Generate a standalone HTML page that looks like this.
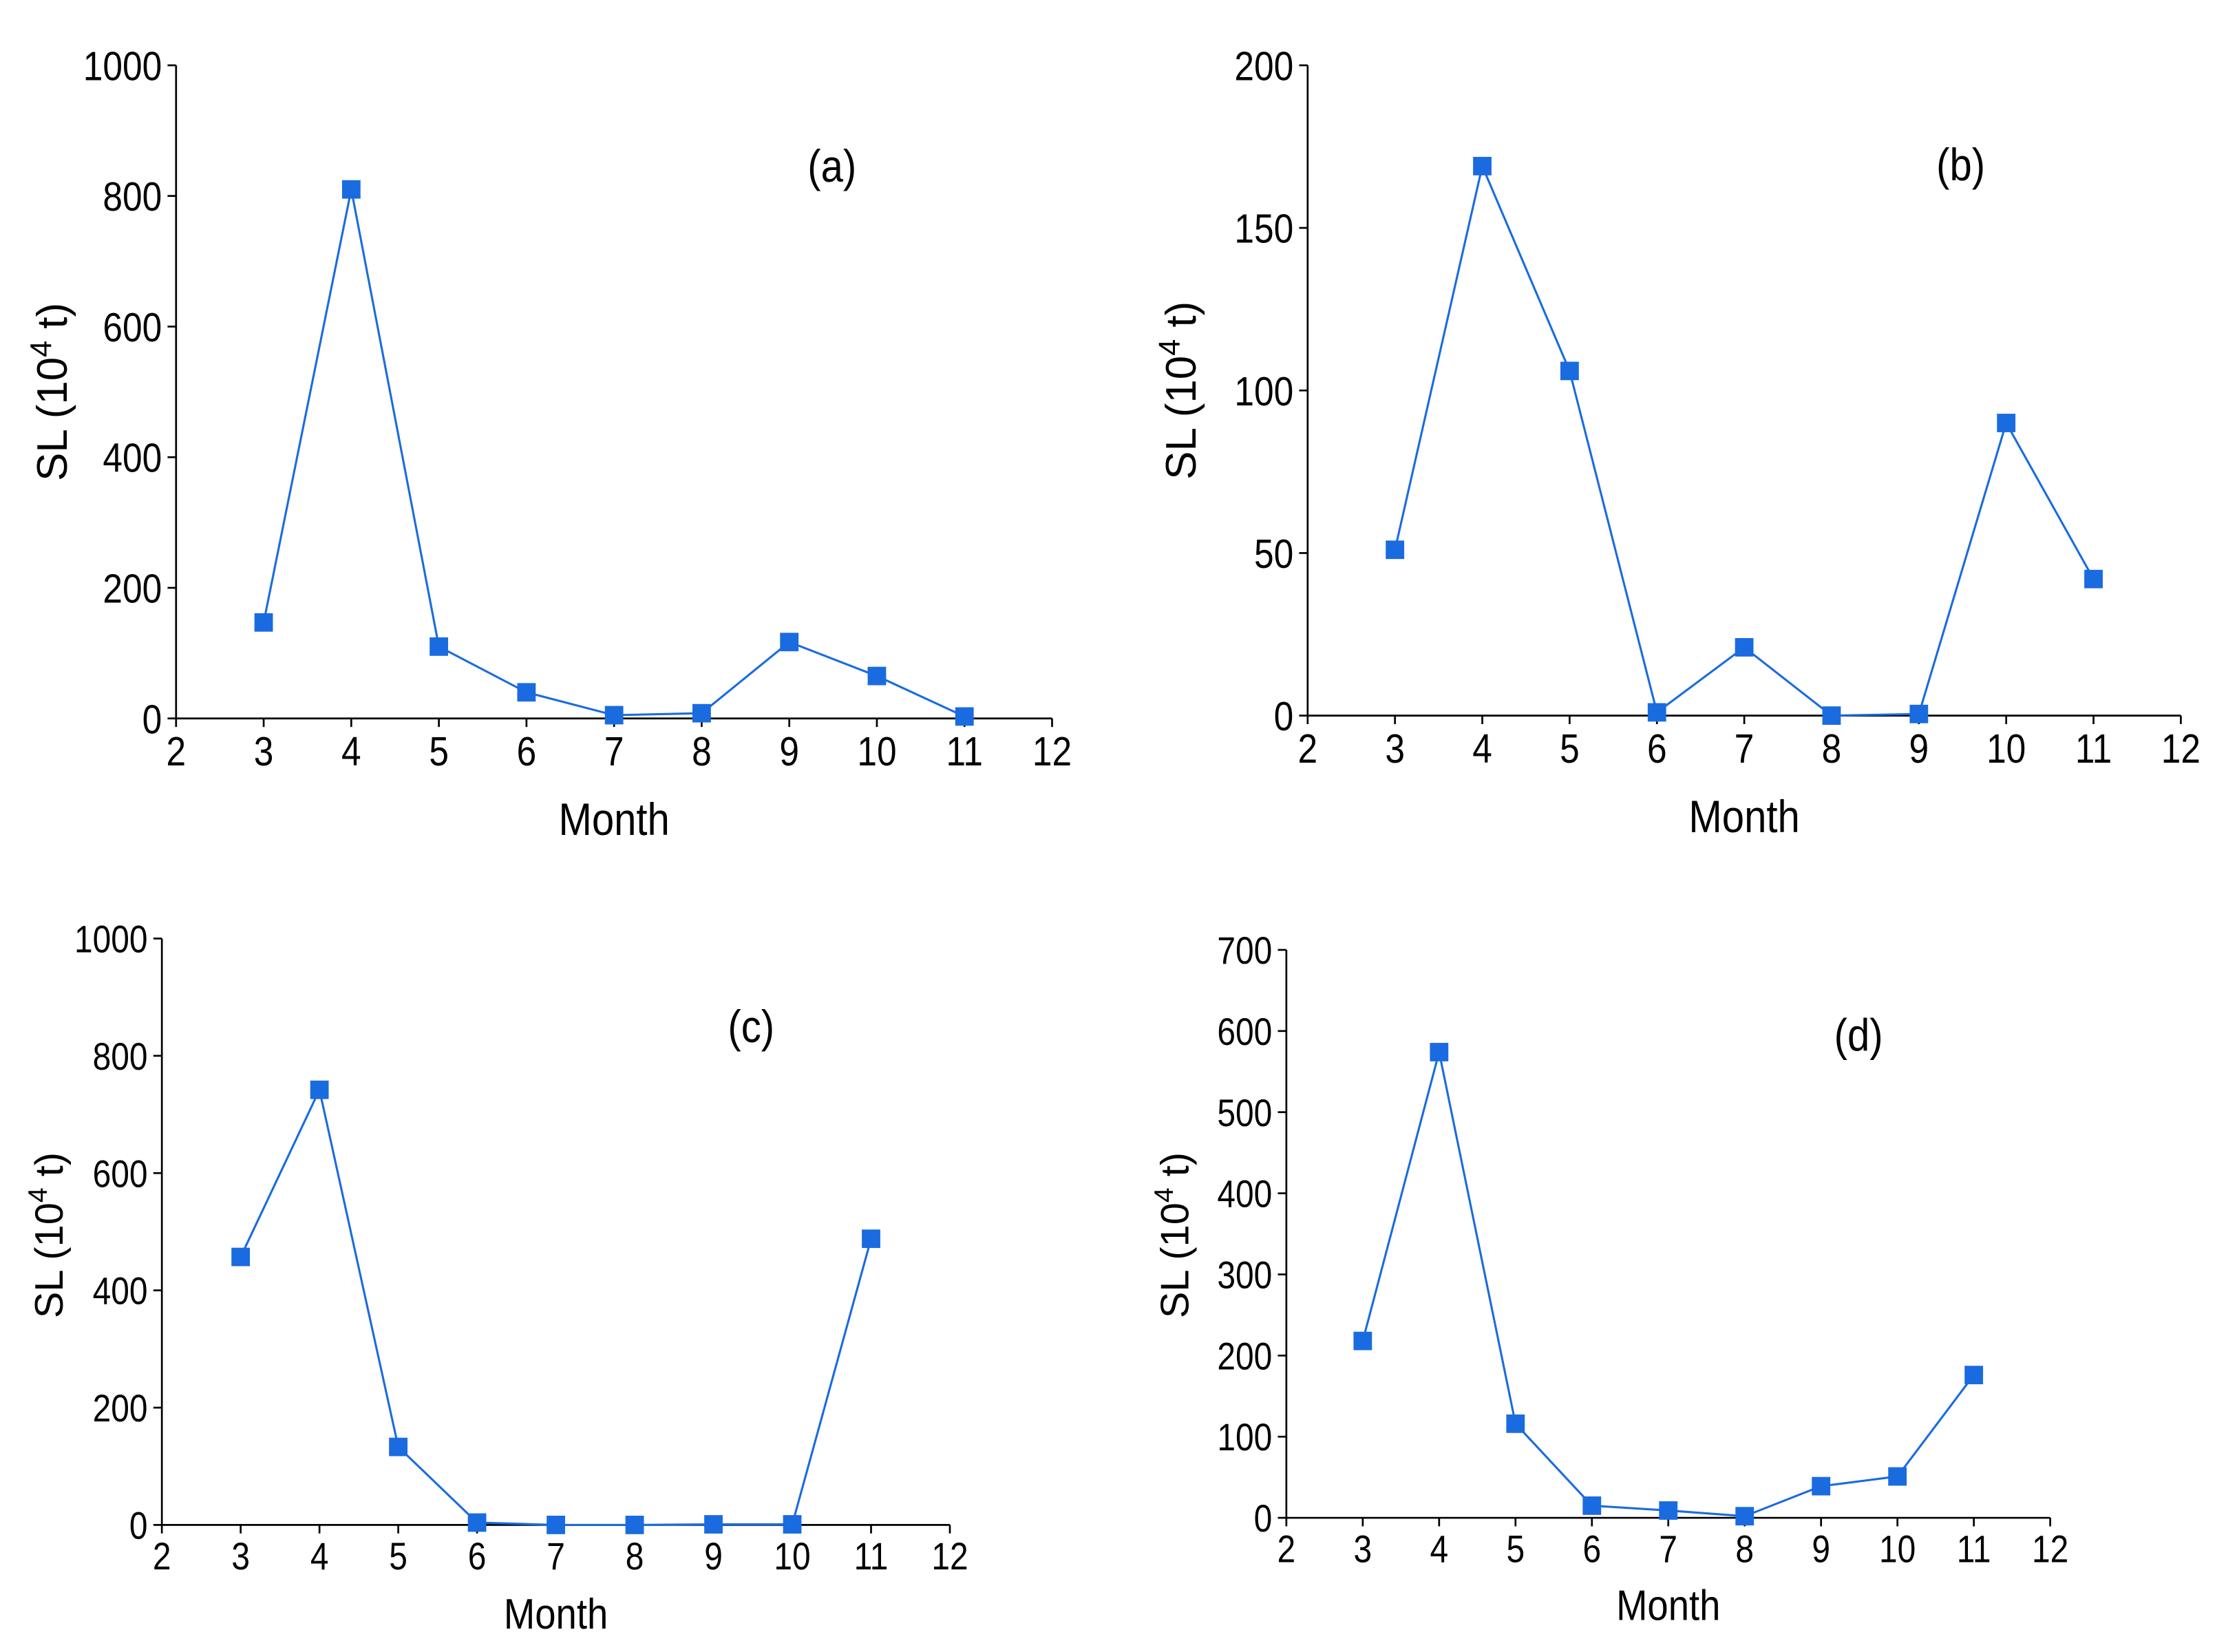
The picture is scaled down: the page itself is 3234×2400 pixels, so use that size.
<!DOCTYPE html>
<html><head><meta charset="utf-8"><style>
html,body{margin:0;padding:0;background:#fff;}
svg{display:block;font-family:"Liberation Sans",sans-serif;}
</style></head><body>
<svg id="fig" width="3234" height="2400" viewBox="0 0 1567.8 1163.5" xmlns="http://www.w3.org/2000/svg"></svg>
<script>
const months = [3,4,5,6,7,8,9,10,11];
const valuesA = [147,810,110,40,5,8,117,65,3];
const valuesB = [51,169,106,1,21,0,0.5,90,42];
const valuesC = [457,742,133,4,0,0,1,1,488];
const valuesD = [218,574,116,15,9,2,39,51,176];
const xTicks = [2,3,4,5,6,7,8,9,10,11,12];
const yTicksA = [0,200,400,600,800,1000];
const yTicksB = [0,50,100,150,200];
const yTicksC = [0,200,400,600,800,1000];
const yTicksD = [0,100,200,300,400,500,600,700];

const NS="http://www.w3.org/2000/svg";
const svg=document.getElementById('fig');
const COLOR="#1a6be0";
const SX=0.86;
function mk(tag,attrs,parent){const e=document.createElementNS(NS,tag);for(const k in attrs)e.setAttribute(k,attrs[k]);(parent||svg).appendChild(e);return e;}

function panel(p){
  const g=mk('g',{});
  
  
  const xs=v=>p.x0+(v-2)/10*(p.x1-p.x0);
  const ys=v=>p.y0-(v/p.ymax)*(p.y0-p.y1);
  const ax=mk('path',{d:`M${p.x0},${p.y1} V${p.y0} H${p.x1}`,fill:'none',stroke:'#000','stroke-width':1.3},g);
  
  
  xTicks.forEach(t=>{
    const x=xs(t);
    mk('line',{x1:x,x2:x,y1:p.y0,y2:p.y0+6,stroke:'#000','stroke-width':1.3},g);
    const tx=mk('text',{x:0,y:0,'text-anchor':'middle','font-size':p.fs,fill:'#000',transform:`translate(${x},${p.y0+7+p.fs*0.9}) scale(${SX},1)`},g);
    tx.textContent=t;
    
    
  });
  p.yt.forEach(t=>{
    const y=ys(t);
    mk('line',{x1:p.x0-6,x2:p.x0,y1:y,y2:y,stroke:'#000','stroke-width':1.3},g);
    const tx=mk('text',{x:0,y:0,'text-anchor':'end','font-size':p.fs,fill:'#000',transform:`translate(${p.x0-10},${y+p.fs*0.36}) scale(${SX},1)`},g);
    tx.textContent=t;
    
    
  });
  const pts=p.vals.map((v,i)=>[xs(months[i]),ys(v)]);
  const line=mk('polyline',{points:pts.map(q=>q.join(',')).join(' '),fill:'none',stroke:COLOR,'stroke-width':1.5},g);
  
  
  pts.forEach(q=>{
    const r=mk('rect',{x:q[0]-6.5,y:q[1]-6.5,width:13,height:13,fill:COLOR},g);
    
    
  });
  const lab=mk('text',{x:0,y:0,'text-anchor':'middle','font-size':32,fill:'#000',transform:`translate(${p.lx},${p.ly}) scale(0.88,1)`},g);
  lab.textContent='('+p.id+')';
  
  
  const xt=mk('text',{x:0,y:0,'text-anchor':'middle','font-size':p.fs+3,fill:'#000',transform:`translate(${(p.x0+p.x1)/2},${p.mY}) scale(0.88,1)`},g);
  xt.textContent='Month';
  
  
  const yt=mk('text',{x:0,y:0,'text-anchor':'middle','font-size':p.yfs,fill:'#000',transform:`translate(${p.yX},${p.yY}) rotate(-90)`},g);
  yt.innerHTML='SL (10<tspan dy="-11" font-size="'+(p.yfs-9)+'">4</tspan><tspan dy="11"> t)</tspan>';
  
  
}
panel({id:'a',x0:124,x1:741,y0:506,y1:46,ymax:1000,yt:yTicksA,vals:valuesA,lx:586,ly:128,mY:588,yX:47,yY:276,fs:29,yfs:30});
panel({id:'b',x0:921,x1:1536,y0:504,y1:46,ymax:200,yt:yTicksB,vals:valuesB,lx:1381,ly:127,mY:586,yX:842,yY:275,fs:29,yfs:30});
panel({id:'c',x0:114,x1:669,y0:1074,y1:661,ymax:1000,yt:yTicksC,vals:valuesC,lx:529,ly:734,mY:1147,yX:44,yY:870,fs:27,yfs:28});
panel({id:'d',x0:906,x1:1444,y0:1069,y1:669,ymax:700,yt:yTicksD,vals:valuesD,lx:1309,ly:740,mY:1141,yX:837,yY:870,fs:27,yfs:28});
</script>
</body></html>
